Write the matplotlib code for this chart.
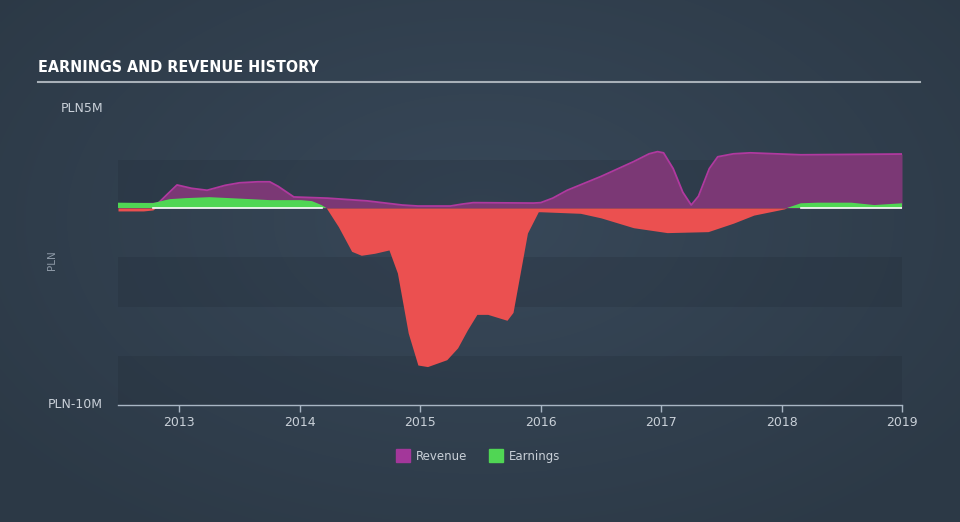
import numpy as np
import matplotlib
matplotlib.use("Agg")
from matplotlib import pyplot as plt
from matplotlib.patches import Patch
from matplotlib.colors import to_rgb

# values in PLN millions, dates in fractional years
rev_dates = [2012.49, 2012.82, 2012.9, 2012.98, 2013.1, 2013.23, 2013.38, 2013.5,
             2013.65, 2013.75, 2013.82, 2013.95, 2014.23, 2014.56, 2014.85,
             2014.98, 2015.25, 2015.35, 2015.44, 2015.94, 2016.0, 2016.1,
             2016.22, 2016.5, 2016.77, 2016.9, 2016.97, 2017.02, 2017.1,
             2017.18, 2017.25, 2017.31, 2017.4, 2017.47, 2017.6, 2017.74,
             2018.16, 2019.0]
revenue = [0.2, 0.22, 0.7, 1.17, 1.0, 0.9, 1.15, 1.28,
           1.33, 1.33, 1.1, 0.56, 0.5, 0.36, 0.15,
           0.1, 0.1, 0.2, 0.27, 0.25, 0.27, 0.5,
           0.9, 1.6, 2.35, 2.75, 2.86, 2.8, 2.0,
           0.8, 0.15, 0.6, 2.0, 2.6, 2.75, 2.8,
           2.7, 2.74]

earn_dates = [2012.49, 2012.78, 2012.92, 2013.05, 2013.25, 2013.59, 2013.75,
              2014.01, 2014.1, 2014.18, 2014.22, 2014.32, 2014.43, 2014.51,
              2014.62, 2014.74, 2014.81, 2014.9, 2014.98, 2015.06, 2015.22,
              2015.31, 2015.39, 2015.47, 2015.56, 2015.72, 2015.77, 2015.89,
              2015.98, 2016.0, 2016.33, 2016.5, 2016.77, 2017.05, 2017.39,
              2017.6, 2017.77, 2018.02, 2018.16, 2018.3, 2018.58, 2018.77,
              2019.0]
earnings = [0.27, 0.25, 0.45, 0.5, 0.55, 0.45, 0.4,
            0.4, 0.35, 0.15, 0.0, -0.95, -2.2, -2.4,
            -2.3, -2.13, -3.3, -6.35, -7.97, -8.05, -7.7,
            -7.1, -6.2, -5.4, -5.4, -5.7, -5.3, -1.27,
            -0.19, -0.19, -0.27, -0.5, -1.0, -1.25, -1.2,
            -0.77, -0.36, -0.05, 0.24, 0.27, 0.27, 0.15,
            0.24]

# thin loss strip at the very start
early_dates = [2012.49, 2012.7, 2012.78, 2012.8]
early_loss = [-0.15, -0.15, -0.1, 0.0]

years = [2013, 2014, 2015, 2016, 2017, 2018, 2019]

purple_line = '#b0399f'
purple_fill = '#7b3875'
red = '#eb5050'
green = '#50d654'
text_grey = '#c9d0d8'

W, H = 960, 522
fig = plt.figure(figsize=(W / 100, H / 100), dpi=100)

# soft radial background
bg_ax = fig.add_axes([0, 0, 1, 1], zorder=-5)
yy, xx = np.mgrid[0:H, 0:W]
r = np.sqrt(((xx - 480) / 620.0) ** 2 + ((yy - 220) / 380.0) ** 2)
r = np.clip(r, 0, 1)[..., None]
c_in = np.array(to_rgb('#384859'))
c_out = np.array(to_rgb('#2c3946'))
bg_ax.imshow(c_in * (1 - r) + c_out * r, aspect='auto', extent=[0, 1, 0, 1])
bg_ax.axis('off')

ax = fig.add_axes([118 / W, 1 - 405 / H, 784 / W, 295.5 / H])
ax.set_facecolor('none')
ax.set_xlim(2012.49, 2019.0)
ax.set_ylim(-10, 5)

for lo, hi in [(-10, -7.5), (-5, -2.5), (0, 2.45)]:
    ax.axhspan(lo, hi, color='#1c2530', alpha=0.2, lw=0, zorder=0)

rd = np.array(rev_dates)
rv = np.array(revenue)
ax.fill_between(rd, rv, 0, color=purple_fill, lw=0, zorder=2)
ax.plot(rd, rv, color=purple_line, lw=1.3, zorder=3)

ed = np.array(earn_dates)
ev = np.array(earnings)
ax.fill_between(ed, ev, 0, where=ev >= 0, interpolate=True, color=green, lw=0, zorder=4)
ax.fill_between(ed, ev, 0, where=ev <= 0, interpolate=True, color=red, lw=0, zorder=4)
ax.fill_between(early_dates, early_loss, 0, color=red, lw=0, zorder=4)

# white zero line where earnings are positive (after the early loss strip)
zero = np.where((ev > 0.05) & (ed >= 2012.78), 0.0, np.nan)
ax.plot(ed, zero, color='white', lw=1.2, zorder=5)

for s in ['top', 'right', 'left']:
    ax.spines[s].set_visible(False)
ax.spines['bottom'].set_color('#a9b6c4')
ax.spines['bottom'].set_linewidth(1)
ax.set_yticks([])
ax.set_xticks(years)
ax.set_xticklabels([str(y) for y in years])
ax.tick_params(axis='x', colors='#a9b6c4', length=5, width=1, labelcolor=text_grey,
               labelsize=9, pad=3)

# title and underline
fig.text(38 / W, 1 - 68 / H, 'EARNINGS AND REVENUE HISTORY', color='white',
         fontsize=11.5, fontweight='bold', va='center', ha='left',
         fontstretch='condensed',
         family=['Liberation Sans Narrow', 'DejaVu Sans Condensed', 'DejaVu Sans'])
fig.add_artist(plt.Line2D([38 / W, 920 / W], [1 - 82 / H, 1 - 82 / H],
                          color='#a8b0b8', lw=1.5))

fig.text(103 / W, 1 - 108 / H, 'PLN5M', color=text_grey, fontsize=9, va='center', ha='right')
fig.text(103 / W, 1 - 404 / H, 'PLN-10M', color=text_grey, fontsize=9, va='center', ha='right')
fig.text(52 / W, 1 - 260 / H, 'PLN', color='#8d99a6', fontsize=7.5, va='center',
         ha='center', rotation=90)

handles = [Patch(color='#a3379a', label='Revenue'), Patch(color=green, label='Earnings')]
leg = fig.legend(handles=handles, loc='center', bbox_to_anchor=(0.498, 1 - 456 / H),
                 ncol=2, frameon=False, fontsize=8.5, handlelength=1.2,
                 handleheight=1.2, columnspacing=1.8, handletextpad=0.5)
for t in leg.get_texts():
    t.set_color(text_grey)

fig.savefig('out.png', dpi=100)
